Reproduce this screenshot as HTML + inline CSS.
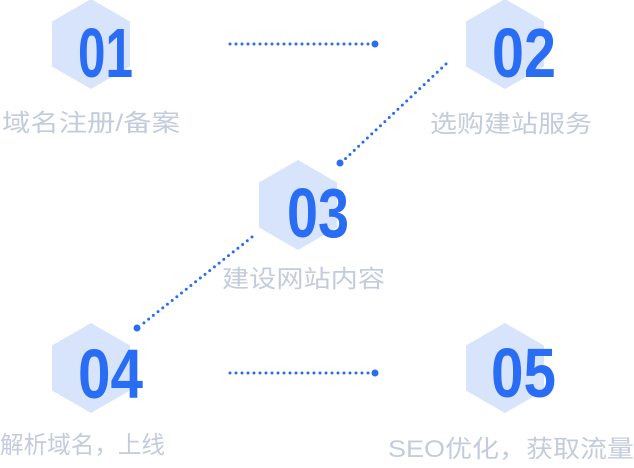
<!DOCTYPE html>
<html><head><meta charset="utf-8"><style>
html,body{margin:0;padding:0;background:#fff;width:634px;height:468px;overflow:hidden}
svg{display:block}
.n{font-family:"Liberation Sans",sans-serif;font-weight:bold;font-size:70px;fill:#2a6df5}
.l{font-family:"Liberation Sans","Noto Sans CJK SC",sans-serif;font-size:24px;fill:#c3cbdd}
.d{stroke:#2a6df5;stroke-width:3;stroke-linecap:round;stroke-dasharray:0 6;fill:none}
</style></head><body>
<svg width="634" height="468" viewBox="0 0 634 468">
<defs><polygon id="h" points="0,-45 39,-22.5 39,22.5 0,45 -39,22.5 -39,-22.5" fill="#d7e4fc"/></defs>
<use href="#h" x="91" y="44"/><use href="#h" x="505" y="44"/><use href="#h" x="298" y="205"/><use href="#h" x="91" y="368"/><use href="#h" x="505" y="368"/>
<text class="n" x="78" y="77" textLength="55" lengthAdjust="spacingAndGlyphs">01</text>
<text class="n" x="492" y="77" textLength="64" lengthAdjust="spacingAndGlyphs">02</text>
<text class="n" x="287" y="237" textLength="62" lengthAdjust="spacingAndGlyphs">03</text>
<text class="n" x="78" y="398" textLength="65" lengthAdjust="spacingAndGlyphs">04</text>
<text class="n" x="491" y="397" textLength="65" lengthAdjust="spacingAndGlyphs">05</text>
<text class="l" x="2" y="131" textLength="178" lengthAdjust="spacingAndGlyphs">域名注册/备案</text>
<text class="l" x="430" y="132" textLength="162" lengthAdjust="spacingAndGlyphs">选购建站服务</text>
<text class="l" x="222" y="287" textLength="163" lengthAdjust="spacingAndGlyphs">建设网站内容</text>
<text class="l" x="0" y="453" textLength="165" lengthAdjust="spacingAndGlyphs">解析域名，上线</text>
<text class="l" x="388" y="457" textLength="246" lengthAdjust="spacingAndGlyphs">SEO优化，获取流量</text>
<line class="d" x1="230" y1="44" x2="372" y2="44"/><circle cx="375" cy="44" r="3.5" fill="#2a6df5"/>
<line class="d" x1="446" y1="64" x2="343" y2="161"/><circle cx="340" cy="163" r="3.5" fill="#2a6df5"/>
<line class="d" x1="252" y1="237" x2="140" y2="326"/><circle cx="137" cy="328" r="3.5" fill="#2a6df5"/>
<line class="d" x1="230" y1="373" x2="372" y2="373"/><circle cx="375" cy="373" r="3.5" fill="#2a6df5"/>
</svg>
</body></html>
